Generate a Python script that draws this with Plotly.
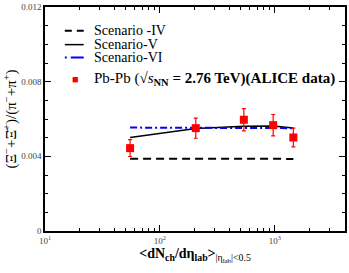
import plotly.graph_objects as go

# Data
dnch = [55, 205, 537, 966, 1448]
ratio = [0.00444, 0.00551, 0.00596, 0.00567, 0.00501]
ratio_err = [0.00045, 0.00054, 0.00060, 0.00057, 0.00050]
scen4 = [0.00387, 0.00388, 0.00390, 0.00387, 0.00386]
scen5 = [0.00501, 0.00549, 0.00561, 0.00563, 0.00552]
scen6 = [0.00554, 0.00553, 0.00552, 0.00552, 0.00551]

xtickvals = [10, 100, 1000]
xticktext = ["10<sup>1</sup>", "10<sup>2</sup>", "10<sup>3</sup>"]
ytickvals = [0, 0.004, 0.008, 0.012]
yticktext = ["0", "0.004", "0.008", "0.012"]

SERIF = "Liberation Serif"

fig = go.Figure()
fig.add_trace(go.Scatter(x=dnch, y=scen4, mode="lines",
                         line=dict(color="black", width=2, dash="8px,5px")))
fig.add_trace(go.Scatter(x=dnch, y=scen5, mode="lines",
                         line=dict(color="black", width=1.5)))
fig.add_trace(go.Scatter(x=dnch, y=scen6, mode="lines",
                         line=dict(color="blue", width=2, dash="7px,3px,2px,3px")))
fig.add_trace(go.Scatter(x=dnch, y=ratio, mode="markers",
                         marker=dict(symbol="square", color="red", size=8),
                         error_y=dict(type="data", array=ratio_err, color="red",
                                      thickness=1.2, width=2)))

fig.update_layout(
    width=349, height=273,
    margin=dict(l=45, r=2, t=5, b=42),
    paper_bgcolor="white", plot_bgcolor="white",
    showlegend=False,
    font=dict(family=SERIF, color="black"),
    xaxis=dict(type="log", range=[1, 3.61],
               tickvals=xtickvals, ticktext=xticktext,
               ticks="inside", ticklen=6, tickwidth=1.2, tickcolor="black",
               minor=dict(ticks="inside", ticklen=3, tickcolor="black", dtick="D1", showgrid=False),
               showline=True, linecolor="black", linewidth=1.5, mirror="ticks",
               showgrid=False, zeroline=False,
               tickfont=dict(family=SERIF, size=9, color="#444"),
               title=dict(text="<b>&lt;dN<sub>ch</sub>/dη<sub>lab</sub>&gt;</b><sub>|η<sub>lab</sub>|&lt;0.5</sub>",
                          font=dict(family=SERIF, size=14), standoff=4)),
    yaxis=dict(range=[0, 0.012],
               tickvals=ytickvals, ticktext=yticktext,
               ticks="inside", ticklen=6, tickwidth=1.2, tickcolor="black",
               minor=dict(ticks="inside", ticklen=3, tickcolor="black", dtick=0.001, showgrid=False),
               showline=True, linecolor="black", linewidth=1.5, mirror="ticks",
               showgrid=False, zeroline=False,
               tickfont=dict(family=SERIF, size=9, color="#444"),
               title=dict(text="(Ξ<sup>−</sup>+Ξ̄<sup>+</sup>)/(π<sup>−</sup>+π<sup>+</sup>)",
                          font=dict(family=SERIF, size=15), standoff=1)),
)

# Manual legend
rows = [
    (0.894, "Scenario -IV", dict(color="black", width=2, dash="7px,5px")),
    (0.832, "Scenario-V", dict(color="black", width=1.5)),
    (0.774, "Scenario-VI", dict(color="blue", width=2, dash="2px,4px,13px")),
]
x0 = 0.066
x1 = 0.129
for yy, txt, ln in rows:
    fig.add_shape(type="line", xref="paper", yref="paper", x0=x0, x1=x1, y0=yy, y1=yy, line=ln)
    fig.add_annotation(xref="paper", yref="paper", x=0.155, y=yy, text=txt, showarrow=False,
                       xanchor="left", yanchor="middle", font=dict(family=SERIF, size=14, color="black"))
fig.add_annotation(xref="paper", yref="paper", x=0.103, y=0.677, text="■", showarrow=False,
                   xanchor="center", yanchor="middle", font=dict(size=11, color="red"))
fig.add_annotation(xref="paper", yref="paper", x=0.155, y=0.677,
                   text="Pb-Pb (√<i>s</i><sub><b>NN</b></sub> <b>= 2.76 TeV)(ALICE data)</b>",
                   showarrow=False, xanchor="left", yanchor="middle",
                   font=dict(family=SERIF, size=15, color="black"))

fig.write_html("out.html", config={"displayModeBar": False},
               post_script="document.body.style.margin='0';")
